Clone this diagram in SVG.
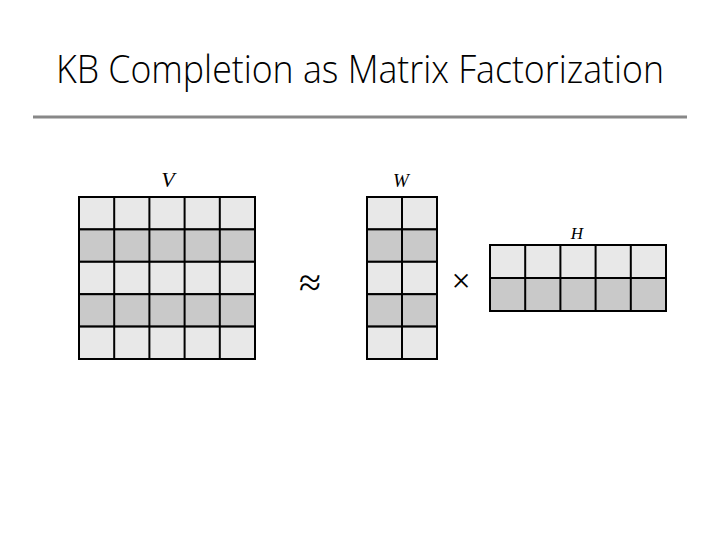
<svg xmlns="http://www.w3.org/2000/svg" width="720" height="540" viewBox="0 0 720 540">
<style>
.title{font-family:"Open Sans","Liberation Sans",sans-serif;font-weight:300;font-size:38px;fill:#000}
.lbl{font-family:"Liberation Serif","DejaVu Serif",serif;font-style:italic;fill:#000}
.op{font-family:"Liberation Serif","DejaVu Serif",serif;fill:#000}
.lt{fill:#e8e8e8;stroke:#000;stroke-width:2}
.dk{fill:#c9c9c9;stroke:#000;stroke-width:2}
</style>
<rect width="720" height="540" fill="#fff"/>
<text class="title" x="360" y="83" text-anchor="middle" textLength="608" lengthAdjust="spacingAndGlyphs">KB Completion as Matrix Factorization</text>
<line x1="33" y1="117" x2="687" y2="117" stroke="#888" stroke-width="3"/>
<g id="V">
<text class="lbl" x="168" y="187" text-anchor="middle" font-size="22">V</text>
<rect class="lt" x="79" y="197" width="176" height="32.4"/>
<rect class="dk" x="79" y="229.4" width="176" height="32.4"/>
<rect class="lt" x="79" y="261.8" width="176" height="32.4"/>
<rect class="dk" x="79" y="294.2" width="176" height="32.4"/>
<rect class="lt" x="79" y="326.6" width="176" height="32.4"/>
<path d="M114.2 197V359M149.4 197V359M184.6 197V359M219.8 197V359" stroke="#000" stroke-width="2"/>
</g>
<g id="approx"><text class="op" x="310" y="296" text-anchor="middle" font-size="40">≈</text></g>
<g id="W">
<text class="lbl" x="401" y="187" text-anchor="middle" font-size="19">W</text>
<rect class="lt" x="367" y="197" width="70" height="32.4"/>
<rect class="dk" x="367" y="229.4" width="70" height="32.4"/>
<rect class="lt" x="367" y="261.8" width="70" height="32.4"/>
<rect class="dk" x="367" y="294.2" width="70" height="32.4"/>
<rect class="lt" x="367" y="326.6" width="70" height="32.4"/>
<path d="M402 197V359" stroke="#000" stroke-width="2"/>
</g>
<g id="times"><text class="op" x="461" y="292" text-anchor="middle" font-size="34">×</text></g>
<g id="H">
<text class="lbl" x="577" y="239" text-anchor="middle" font-size="17">H</text>
<rect class="lt" x="490" y="245" width="176" height="33"/>
<rect class="dk" x="490" y="278" width="176" height="33"/>
<path d="M525.2 245V311M560.4 245V311M595.6 245V311M630.8 245V311" stroke="#000" stroke-width="2"/>
</g>
</svg>
